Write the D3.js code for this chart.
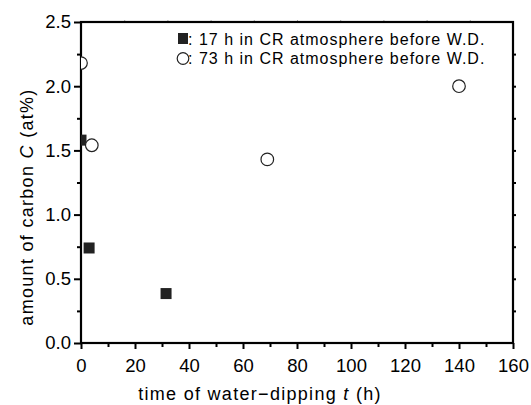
<!DOCTYPE html>
<html>
<head>
<meta charset="utf-8">
<script src="https://cdn.jsdelivr.net/npm/d3@7"></script>
<style>
  body { margin: 0; background: #fff; }
  svg { display: block; font-family: "Liberation Sans", Arial, sans-serif; }
  .axis .domain { display: none; }
  .axis text { font-size: 18.5px; fill: #000; }
</style>
</head>
<body>
<svg id="chart" width="531" height="405"></svg>
<script>
// series: 17 h in CR atmosphere (filled squares)
var time17 = [0, 3, 31.5];
var carbon17 = [1.58, 0.74, 0.385];
// series: 73 h in CR atmosphere (open circles)
var time73 = [0, 4, 69, 140];
var carbon73 = [2.18, 1.54, 1.43, 2.0];

var xTicks = [0, 20, 40, 60, 80, 100, 120, 140, 160];
var yTicks = [0.0, 0.5, 1.0, 1.5, 2.0, 2.5];
var legendLabels = [": 17 h in CR atmosphere before W.D.", ": 73 h in CR atmosphere before W.D."];

var svg = d3.select("#chart"),
    margin = {top: 22, right: 18, bottom: 62, left: 81},
    width = 531 - margin.left - margin.right,
    height = 405 - margin.top - margin.bottom,
    g = svg.append("g").attr("transform", "translate(" + margin.left + "," + margin.top + ")");

var xScale = d3.scaleLinear().domain([0, 160]).range([0, width]),
    yScale = d3.scaleLinear().domain([0, 2.5]).range([height, 0]);

var sq = d3.zip(time17, carbon17),
    circ = d3.zip(time73, carbon73);

// clip the markers to the frame
svg.append("defs").append("clipPath").attr("id", "plot-clip")
  .append("rect").attr("width", width).attr("height", height);

// minor ticks
g.append("g")
    .attr("class", "axis")
    .attr("transform", "translate(0," + height + ")")
    .call(d3.axisBottom(xScale).tickValues(d3.range(10, 160, 20)).tickSize(4).tickFormat(""));
g.append("g")
    .attr("class", "axis")
    .call(d3.axisLeft(yScale).tickValues(d3.range(0.25, 2.5, 0.5)).tickSize(4).tickFormat(""));

// major ticks + labels
g.append("g")
    .attr("class", "axis axis--x")
    .attr("transform", "translate(0," + height + ")")
    .call(d3.axisBottom(xScale).tickValues(xTicks).tickSize(6).tickPadding(10).tickFormat(d3.format("d")));
g.append("g")
    .attr("class", "axis axis--y")
    .call(d3.axisLeft(yScale).tickValues(yTicks).tickSize(7).tickPadding(3).tickFormat(d3.format(".1f")));

// right axis ticks every 0.25
g.append("g")
    .attr("class", "axis")
    .attr("transform", "translate(" + width + ",0)")
    .call(d3.axisRight(yScale).tickValues(d3.range(0.25, 2.5, 0.25)).tickSize(3).tickFormat(""));

// top axis: faint ticks, 10 divisions
g.append("g")
    .attr("class", "axis axis--top")
    .call(d3.axisTop(xScale).tickValues(d3.range(16, 160, 16)).tickSize(2).tickFormat(""))
  .selectAll(".tick line").attr("stroke", "#aaa");

g.selectAll(".axis .tick line").filter(function() { return !this.closest(".axis--top"); })
    .attr("stroke", "#000").attr("stroke-width", 2);

// frame
g.append("rect")
    .attr("width", width)
    .attr("height", height)
    .attr("fill", "none")
    .attr("stroke", "#000")
    .attr("stroke-width", 2.2);

// points
var pts = g.append("g").attr("clip-path", "url(#plot-clip)");

pts.selectAll(".sq")
  .data(sq)
  .enter().append("rect")
    .attr("class", "sq")
    .attr("x", function(d) { return xScale(d[0]) - 5.5; })
    .attr("y", function(d) { return yScale(d[1]) - 5.5; })
    .attr("width", 11)
    .attr("height", 11)
    .attr("fill", "#222");

pts.selectAll(".circ")
  .data(circ)
  .enter().append("circle")
    .attr("class", "circ")
    .attr("cx", function(d) { return xScale(d[0]); })
    .attr("cy", function(d) { return yScale(d[1]); })
    .attr("r", 6.3)
    .attr("fill", "#fff")
    .attr("stroke", "#222")
    .attr("stroke-width", 1.2);

// legend
var legend = svg.append("g").attr("transform", "translate(183,0)");
legend.append("rect")
    .attr("x", -5).attr("y", 33)
    .attr("width", 10).attr("height", 11)
    .attr("fill", "#222");
legend.append("circle")
    .attr("cx", 0).attr("cy", 58.5)
    .attr("r", 5.8)
    .attr("fill", "#fff")
    .attr("stroke", "#222")
    .attr("stroke-width", 1.2);
legend.selectAll(".lg")
  .data(legendLabels)
  .enter().append("text")
    .attr("class", "lg")
    .attr("x", 5)
    .attr("y", function(d, i) { return 44.5 + i * 19.5; })
    .attr("font-size", 16)
    .attr("letter-spacing", 1)
    .text(function(d) { return d; });

// axis titles
var xt = svg.append("text")
    .attr("x", 260)
    .attr("y", 400)
    .attr("text-anchor", "middle")
    .attr("font-size", 18)
    .attr("letter-spacing", 1.3);
xt.append("tspan").text("time of water\u2212dipping ");
xt.append("tspan").attr("font-style", "italic").text("t");
xt.append("tspan").text(" (h)");

var yt = svg.append("text")
    .attr("transform", "translate(33,207) rotate(-90)")
    .attr("text-anchor", "middle")
    .attr("font-size", 18)
    .attr("letter-spacing", 1.3);
yt.append("tspan").text("amount of carbon ");
yt.append("tspan").attr("font-style", "italic").text("C");
yt.append("tspan").text(" (at%)");
</script>
</body>
</html>
